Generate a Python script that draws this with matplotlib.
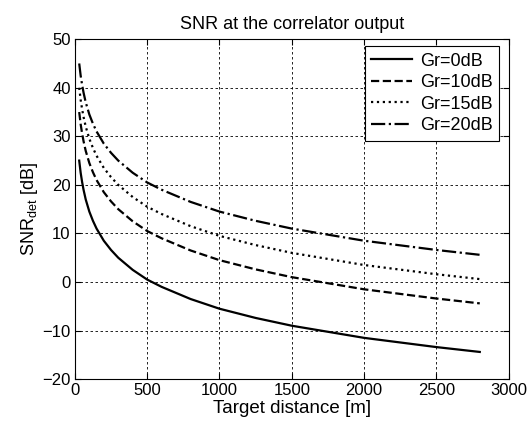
import matplotlib
matplotlib.use('Agg')
import matplotlib.pyplot as plt

plt.rcParams['font.family'] = ['Liberation Sans', 'DejaVu Sans']
plt.rcParams['mathtext.fontset'] = 'custom'
plt.rcParams['mathtext.rm'] = 'Liberation Sans'
plt.rcParams['mathtext.it'] = 'Liberation Sans:italic'

# target distance [m]
dist = [30, 40, 50, 60, 75, 100, 125, 150, 200, 250, 300, 400, 500, 600,
        800, 1000, 1250, 1500, 2000, 2500, 2800]
# SNR_det [dB] for each receiver gain
snr_0 = [25.0, 22.5, 20.6, 19.0, 17.0, 14.5, 12.6, 11.0, 8.5, 6.6, 5.0, 2.5,
         0.5, -1.0, -3.5, -5.5, -7.4, -9.0, -11.5, -13.4, -14.4]
snr_10 = [35.0, 32.5, 30.6, 29.0, 27.0, 24.5, 22.6, 21.0, 18.5, 16.6, 15.0,
          12.5, 10.5, 9.0, 6.5, 4.5, 2.6, 1.0, -1.5, -3.4, -4.4]
snr_15 = [40.0, 37.5, 35.6, 34.0, 32.0, 29.5, 27.6, 26.0, 23.5, 21.6, 20.0,
          17.5, 15.5, 14.0, 11.5, 9.5, 7.6, 6.0, 3.5, 1.6, 0.6]
snr_20 = [45.0, 42.5, 40.6, 39.0, 37.0, 34.5, 32.6, 31.0, 28.5, 26.6, 25.0,
          22.5, 20.5, 19.0, 16.5, 14.5, 12.6, 11.0, 8.5, 6.6, 5.6]
labels = ['Gr=0dB', 'Gr=10dB', 'Gr=15dB', 'Gr=20dB']

fig = plt.figure(figsize=(5.31, 4.26), dpi=100)
ax = fig.add_axes([0.141, 0.110, 0.817, 0.798])

ax.plot(dist, snr_0, 'k-', lw=1.6, label=labels[0])
ax.plot(dist, snr_10, 'k--', lw=1.6, label=labels[1])
ax.plot(dist, snr_15, 'k:', lw=1.6, label=labels[2])
ax.plot(dist, snr_20, 'k-.', lw=1.6, label=labels[3])

ax.set_xlim(0, 3000)
ax.set_ylim(-20, 50)
ax.set_xticks(range(0, 3001, 500))
ax.set_yticks(range(-20, 51, 10))
ax.grid(True, color='k', linestyle=(0, (3, 3)), linewidth=0.6)
ax.tick_params(direction='in', top=True, right=True, labelsize=12, length=4,
               pad=3)
for s in ax.spines.values():
    s.set_linewidth(0.8)

ax.set_title('SNR at the correlator output', fontsize=13, pad=7)
ax.set_xlabel('Target distance [m]', fontsize=13.5, labelpad=1)
ax.set_ylabel('SNR$_{\\mathrm{det}}$ [dB]', fontsize=13, labelpad=2)

leg = ax.legend(loc='upper right', bbox_to_anchor=(0.977, 0.979),
                fontsize=13, fancybox=False, framealpha=1, edgecolor='k',
                handlelength=2.3, borderaxespad=0, borderpad=0.35,
                labelspacing=0.25, handletextpad=0.4)
leg.get_frame().set_linewidth(0.8)

fig.savefig('out.png', dpi=100)
